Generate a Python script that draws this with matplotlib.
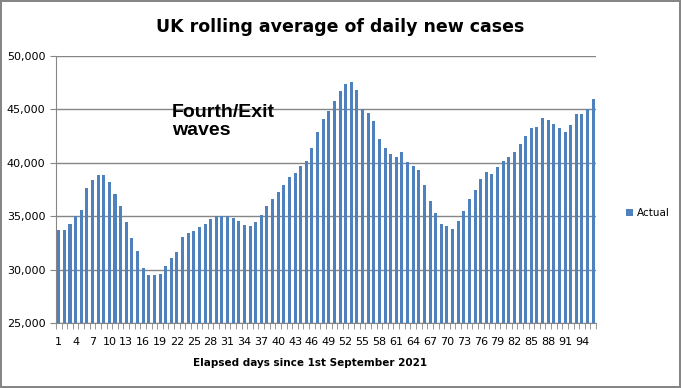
import numpy as np
import matplotlib
matplotlib.use('Agg')
import matplotlib.pyplot as plt
from matplotlib.ticker import FuncFormatter

# days since 1st September 2021 and rolling average of new cases
days = list(range(1, 97))
cases = [33728, 33728, 34289, 35006, 35598, 37655, 38403, 38871, 38871, 38216,
         37094, 35972, 34476, 32980, 31764, 30174, 29520, 29520, 29613, 30361,
         31109, 31670, 33073, 33447, 33634, 34008, 34289, 34756, 35037, 35037,
         35037, 34850, 34569, 34195, 34102, 34476, 35130, 35972, 36626, 37281,
         37936, 38684, 39058, 39712, 40180, 41395, 42892, 44107, 44855, 45790,
         46725, 47380, 47567, 46819, 45042, 44668, 43920, 42237, 41395, 40834,
         40554, 41021, 40086, 39712, 39338, 37936, 36439, 35317, 34289, 34102,
         33821, 34569, 35504, 36626, 37468, 38497, 39151, 38964, 39619, 40180,
         40554, 41021, 41769, 42518, 43266, 43359, 44201, 44014, 43640, 43266,
         42892, 43546, 44575, 44575, 45042, 45977]
tick_days = list(range(1, 97, 3))

fig = plt.figure(figsize=(6.81, 3.88), dpi=100)
fig.patch.set_edgecolor('#868686')
fig.patch.set_linewidth(1.5)
ax = fig.add_axes([0.0822, 0.1675, 0.793, 0.6885])

ax.bar(days, cases, width=0.55, color='#4F81BD', label='Actual', zorder=3)

ax.set_xlim(0.5, 96.5)
ax.set_ylim(25000, 50000)
ax.set_yticks(range(25000, 50001, 5000))
ax.yaxis.set_major_formatter(FuncFormatter(lambda v, p: f'{int(v):,}'))
ax.grid(axis='y', color='#868686', linewidth=1, zorder=0)

ax.set_xticks(tick_days)
ax.set_xticks(np.arange(0.5, 97, 1), minor=True)
ax.tick_params(axis='x', which='major', length=0, pad=10, labelsize=8)
ax.tick_params(axis='x', which='minor', length=4, color='#868686')
ax.tick_params(axis='y', length=4, color='#868686', labelsize=8)

for s in ['top', 'right']:
    ax.spines[s].set_visible(False)
for s in ['left', 'bottom']:
    ax.spines[s].set_color('#868686')

fig.text(0.5, 0.93, 'UK rolling average of daily new cases', ha='center',
         va='center', fontsize=12.5, fontweight='bold')
fig.text(0.252, 0.733, 'Fourth/Exit\nwaves', fontsize=14, fontweight='bold',
         family='Liberation Sans', va='top', ha='left', linespacing=1.1)
fig.text(0.455, 0.064, 'Elapsed days since 1st September 2021', ha='center',
         va='center', fontsize=7.5, fontweight='bold')

fig.legend(loc='center left', bbox_to_anchor=(0.905, 0.45), frameon=False,
           fontsize=7.5, handlelength=0.7, handleheight=0.7, handletextpad=0.4)

fig.savefig('out.png', dpi=100)
